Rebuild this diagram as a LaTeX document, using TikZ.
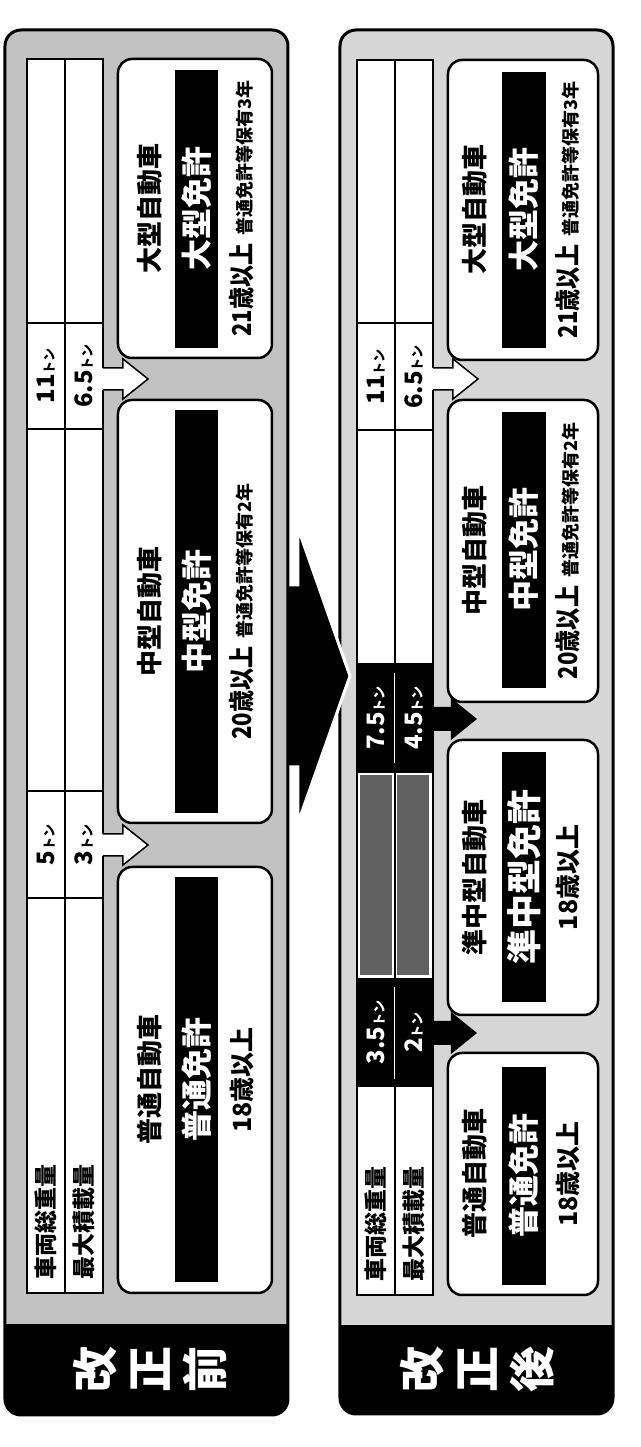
\documentclass[tikz,border=0pt]{standalone}
\usepackage{fontspec}
\usepackage{graphicx}
\setmainfont{Noto Sans CJK JP}
\newcommand\fsz[1]{\fontsize{#1}{#1}\selectfont}
\newcommand\tonunit{{\fsz{13}トン}}
\newcommand\agecond[1]{\scalebox{0.85}[1]{\fsz{26}#1}}
\newcommand\holdyears[1]{{\fsz{18}\bfseries 普通免許等保有#1年}}
\tikzset{
  panelbox/.style={draw=black,line width=3pt,rounded corners=16pt},
  vehbox/.style={draw=black,line width=2.5pt,fill=white,rounded corners=14pt,inner sep=0pt,minimum height=154pt},
  licbar/.style={fill=black,inner sep=0pt,minimum height=43pt,font=\fsz{31}\bfseries,text=white},
  tablebox/.style={draw=black,line width=2pt,fill=white},
  gridline/.style={draw=black,line width=1.3pt},
  graycell/.style={fill=black!62,draw=white,line width=1pt},
  vehname/.style={font=\fsz{26}\bfseries,inner sep=0pt},
  agetext/.style={font=\fsz{25}\bfseries,inner sep=0pt},
  tontext/.style={font=\fsz{24}\bfseries,inner sep=0pt},
  rowtext/.style={font=\fsz{23}\bfseries,inner sep=0pt,anchor=west},
  tagtext/.style={font=\fontsize{46}{55}\selectfont\bfseries,text=white,align=center,inner sep=0pt},
  openarrow/.pic={
    \fill[white] (-11,2) -- (-11,-20) -- (-20,-20) -- (0,-45) -- (20,-20) -- (11,-20) -- (11,2) -- cycle;
    \draw[line width=1.5pt,line join=miter] (-11,0) -- (-11,-20) -- (-20,-20) -- (0,-45) -- (20,-20) -- (11,-20) -- (11,0);
  },
  solidarrow/.pic={
    \fill[black] (-12,1) -- (-12,-18) -- (-21,-18) -- (0,-44) -- (21,-18) -- (12,-18) -- (12,1) -- cycle;
  }
}
\begin{document}
\begin{tikzpicture}[x=1pt,y=1pt,rotate=90,transform shape]
  \useasboundingbox (0,0) rectangle (1447,640);

  % after the revision
  \begin{scope}
    \clip[rounded corners=16pt] (33,27) rectangle (1417,300);
    \fill[black!16] (33,27) rectangle (1417,300);
    \fill[black] (33,27) rectangle (122,300);
  \end{scope}
  \draw[panelbox] (33,27) rectangle (1417,300);

  % big arrow between the panels
  \draw[fill=black,draw=white,line width=3pt,line join=miter] (680,351) -- (680,342) -- (624,342) -- (771,290) -- (919,342) -- (862,342) -- (862,351);

  % before the revision
  \begin{scope}
    \clip[rounded corners=16pt] (32,352) rectangle (1417,635);
    \fill[black!24] (32,352) rectangle (1417,635);
    \fill[black] (32,352) rectangle (123,635);
  \end{scope}
  \draw[panelbox] (32,352) rectangle (1417,635);

  \node[tagtext] (oldtag) at (77.5,490) {改\\正\\前};
  \node[tagtext] (newtag) at (77.5,163) {改\\正\\後};

  % weight table, before
  \draw[tablebox] (154,537) rectangle (1388,613);
  \draw[gridline] (154,575) -- (1388,575);
  \foreach \x in {549,656,1018,1124}
    \draw[gridline] (\x,537) -- (\x,613);
  \node[rowtext] (oldrow1) at (167,594) {車両総重量};
  \node[rowtext] (oldrow2) at (167,556) {最大積載量};
  \node[tontext] (old5t) at (602,594) {5\tonunit};
  \node[tontext] (old3t) at (602,556) {3\tonunit};
  \node[tontext] (old11t) at (1071,594) {11\tonunit};
  \node[tontext] (old65t) at (1071,556) {6.5\tonunit};

  % weight table, after
  \draw[tablebox] (152,207) rectangle (1387,283);
  \draw[gridline] (152,245) -- (1387,245);
  \foreach \x in {1017,1124}
    \draw[gridline] (\x,207) -- (\x,283);
  \fill[black] (674,207) rectangle (784,283);
  \fill[black] (360,207) rectangle (469,283);
  \draw[white,line width=1pt] (684,245) -- (774,245);
  \draw[white,line width=1pt] (368,245) -- (460,245);
  \draw[graycell] (471,210) rectangle (672,243);
  \draw[graycell] (471,247) rectangle (672,280);
  \node[rowtext] (newrow1) at (165,264) {車両総重量};
  \node[rowtext] (newrow2) at (165,226) {最大積載量};
  \node[tontext,text=white] (new35t) at (414.5,264) {3.5\tonunit};
  \node[tontext,text=white] (new2t) at (414.5,226) {2\tonunit};
  \node[tontext,text=white] (new75t) at (729,264) {7.5\tonunit};
  \node[tontext,text=white] (new45t) at (729,226) {4.5\tonunit};
  \node[tontext] (new11t) at (1070,264) {11\tonunit};
  \node[tontext] (new65t) at (1070,226) {6.5\tonunit};

  % arrows from the table
  \pic at (602,537) {openarrow};
  \pic at (1068,537) {openarrow};
  \pic at (1068,207) {openarrow};
  \pic at (728,207) {solidarrow};
  \pic at (414,207) {solidarrow};

  % licence boxes, before
  \node[vehbox,minimum width=426pt] (oldfutsu) at (367,445) {};
  \node[vehbox,minimum width=423pt] (oldchugata) at (835.5,445) {};
  \node[vehbox,minimum width=299pt] (oldogata) at (1238.5,445) {};
  \node[vehname] (oldfutsuname) at (367,490) {普通自動車};
  \node[vehname] (oldchuname) at (835.5,490) {中型自動車};
  \node[vehname] (oldoname) at (1238.5,490) {大型自動車};
  \node[licbar,minimum width=405pt] (oldfutsulic) at (367.5,443) {普通免許};
  \node[licbar,minimum width=403pt] (oldchulic) at (835.5,443) {中型免許};
  \node[licbar,minimum width=278pt] (oldolic) at (1238,443) {大型免許};
  \node[agetext] (oldfutsuage) at (367,398) {18歳以上};
  \node[agetext] (oldchuage) at (835.5,398) {\agecond{20歳以上}\hspace{8pt}\holdyears{2}};
  \node[agetext] (oldoage) at (1238.5,398) {\agecond{21歳以上}\hspace{8pt}\holdyears{3}};

  % licence boxes, after
  \node[vehbox,minimum width=242pt,minimum height=150pt] (newfutsu) at (273,117) {};
  \node[vehbox,minimum width=275pt,minimum height=150pt] (newjunchu) at (569.5,117) {};
  \node[vehbox,minimum width=302pt,minimum height=150pt] (newchugata) at (896,117) {};
  \node[vehbox,minimum width=300pt,minimum height=150pt] (newogata) at (1237,117) {};
  \node[vehname] (newfutsuname) at (273,165) {普通自動車};
  \node[vehname] (newjunname) at (569.5,165) {準中型自動車};
  \node[vehname] (newchuname) at (896,165) {中型自動車};
  \node[vehname] (newoname) at (1237,165) {大型自動車};
  \node[licbar,minimum width=218pt] (newfutsulic) at (271,116) {普通免許};
  \node[licbar,minimum width=250pt,font=\fsz{35}\bfseries] (newjunlic) at (570,116) {準中型免許};
  \node[licbar,minimum width=276pt] (newchulic) at (897,116) {中型免許};
  \node[licbar,minimum width=276pt] (newolic) at (1237,116) {大型免許};
  \node[agetext] (newfutsuage) at (273,72) {18歳以上};
  \node[agetext] (newjunage) at (569.5,72) {18歳以上};
  \node[agetext] (newchuage) at (896,72) {\agecond{20歳以上}\hspace{8pt}\holdyears{2}};
  \node[agetext] (newoage) at (1237,72) {\agecond{21歳以上}\hspace{8pt}\holdyears{3}};
\end{tikzpicture}
\end{document}
